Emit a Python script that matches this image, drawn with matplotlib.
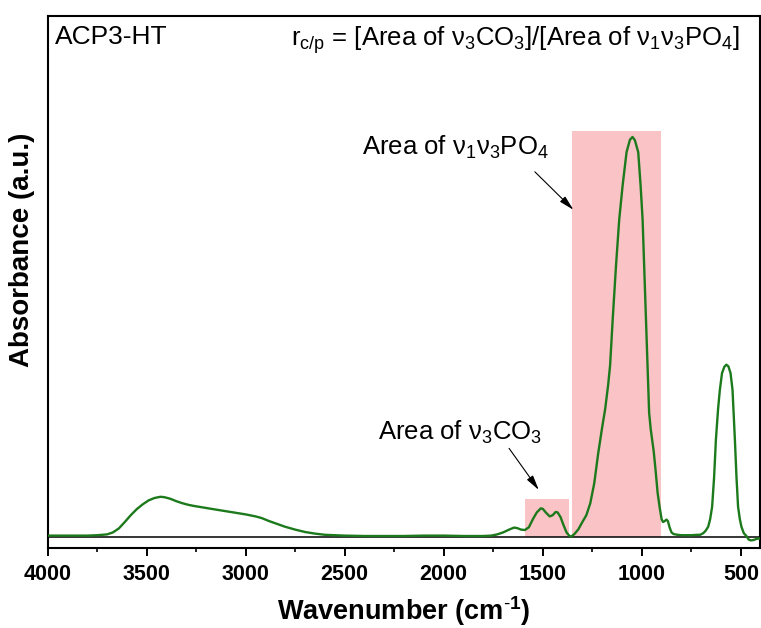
import matplotlib
matplotlib.use("Agg")
import matplotlib.pyplot as plt
from matplotlib.patches import Rectangle
from matplotlib.ticker import MultipleLocator

plt.rcParams['font.family'] = ['Liberation Sans', 'DejaVu Sans']
plt.rcParams['mathtext.fontset'] = 'custom'
plt.rcParams['mathtext.rm'] = 'Liberation Sans'
plt.rcParams['mathtext.bf'] = 'Liberation Sans:bold'
plt.rcParams['mathtext.default'] = 'regular'

# FTIR spectrum of ACP3-HT (wavenumber in cm-1, absorbance in a.u.)
wavenumber = [
    4000, 3900, 3800, 3750, 3700, 3670, 3640, 3610, 3580, 3550, 3520, 3490,
    3460, 3430, 3410, 3380, 3350, 3320, 3290, 3260, 3200, 3150, 3100, 3050,
    3000, 2950, 2920, 2880, 2840, 2800, 2750, 2700, 2650, 2600, 2500, 2400,
    2300, 2200, 2100, 2000, 1900, 1800, 1760, 1730, 1700, 1670, 1645, 1630,
    1610, 1590, 1570, 1550, 1530, 1510, 1500, 1485, 1465, 1450, 1435, 1425,
    1410, 1395, 1380, 1365, 1355, 1340, 1320, 1300, 1280, 1260, 1240, 1220,
    1200, 1185, 1170, 1160, 1147, 1130, 1114, 1097, 1077, 1060, 1047, 1035,
    1018, 1006, 996, 987, 979, 970, 963, 955, 948, 940, 930, 920,
    910, 900, 893, 885, 875, 868, 860, 850, 840, 820, 800, 750,
    720, 705, 690, 678, 665, 655, 645, 635, 626, 615, 606, 595,
    583, 573, 563, 552, 542, 530, 522, 514, 505, 497, 485, 472,
    460, 450, 435, 420, 400,
]
absorbance = [
    0.004, 0.004, 0.004, 0.005, 0.007, 0.012, 0.022, 0.038, 0.055, 0.070, 0.082, 0.092,
    0.098, 0.101, 0.100, 0.096, 0.090, 0.085, 0.081, 0.078, 0.073, 0.069, 0.065, 0.061,
    0.057, 0.052, 0.048, 0.040, 0.033, 0.026, 0.019, 0.013, 0.009, 0.006, 0.004, 0.003,
    0.003, 0.003, 0.004, 0.004, 0.003, 0.003, 0.004, 0.007, 0.012, 0.019, 0.024, 0.023,
    0.019, 0.018, 0.025, 0.045, 0.062, 0.072, 0.071, 0.062, 0.052, 0.055, 0.063, 0.062,
    0.050, 0.030, 0.012, 0.003, 0.002, 0.008, 0.020, 0.038, 0.055, 0.085, 0.135, 0.210,
    0.275, 0.320, 0.380, 0.430, 0.544, 0.680, 0.794, 0.878, 0.962, 0.993, 1.000, 0.992,
    0.962, 0.878, 0.794, 0.660, 0.544, 0.400, 0.311, 0.270, 0.245, 0.215, 0.165, 0.110,
    0.075, 0.045, 0.038, 0.040, 0.044, 0.040, 0.025, 0.012, 0.008, 0.006, 0.005, 0.005,
    0.006, 0.006, 0.010, 0.016, 0.026, 0.045, 0.076, 0.150, 0.243, 0.320, 0.368, 0.410,
    0.426, 0.431, 0.427, 0.410, 0.368, 0.243, 0.150, 0.076, 0.045, 0.026, 0.010, 0.003,
    -0.006, -0.008, -0.007, -0.004, -0.003,
]

# Integration windows (wavenumber range, upper edge)
co3_window = (1592, 1370)
co3_top = 0.095
po4_window = (1350, 903)
po4_top = 1.015

x_ticks = [4000, 3500, 3000, 2500, 2000, 1500, 1000, 500]

fig = plt.figure(figsize=(7.61, 6.28), dpi=100)
ax = fig.add_axes([0.0625, 0.128, 0.936, 0.847])

pink = '#FAC3C5'
for (hi, lo), top in ((co3_window, co3_top), (po4_window, po4_top)):
    ax.add_patch(Rectangle((lo, 0), hi - lo, top, facecolor=pink,
                           edgecolor='none', zorder=1))

ax.axhline(0, color='black', lw=1.1, zorder=2)
ax.plot(wavenumber, absorbance, color='#1C7A1C', lw=1.7, zorder=3)

ax.set_xlim(4000, 404)
ax.set_ylim(-0.026, 1.303)
ax.set_xticks(x_ticks)
ax.set_xticklabels([str(t) for t in x_ticks])
ax.xaxis.set_minor_locator(MultipleLocator(250))
ax.set_yticks([])

ax.tick_params(axis='x', which='major', direction='out', length=5.5, width=1.4,
               labelsize=15.5, pad=6)
ax.tick_params(axis='x', which='minor', direction='out', length=3, width=1.2)
for lab in ax.get_xticklabels():
    lab.set_fontweight('bold')
for sp in ax.spines.values():
    sp.set_linewidth(1.5)

ax.set_xlabel('Wavenumber (cm$^{\\mathbf{\\text{-}1}}$)', fontsize=19.5,
              fontweight='bold', labelpad=7)
ax.set_ylabel('Absorbance (a.u.)', fontsize=20, fontweight='bold')
ax.yaxis.set_label_coords(-0.017, 0.56)

ax.text(0.011, 0.983, 'ACP3-HT', transform=ax.transAxes, fontsize=19,
        ha='left', va='top')
ax.text(0.972, 0.983,
        'r$_{c/p}$ = [Area of ν$_3$CO$_3$]/[Area of ν$_1$ν$_3$PO$_4$]',
        transform=ax.transAxes, fontsize=18.5, ha='right', va='top')

arrow = dict(arrowstyle='-|>,head_length=0.9,head_width=0.22', color='black',
             lw=0.8, shrinkA=0, shrinkB=0)
ax.annotate('', xy=(1345, 0.818), xytext=(1540, 0.913), arrowprops=arrow)
ax.text(2414, 0.955, 'Area of ν$_1$ν$_3$PO$_4$', fontsize=18.5, ha='left',
        va='baseline')
ax.annotate('', xy=(1520, 0.118), xytext=(1670, 0.222), arrowprops=arrow)
ax.text(2333, 0.243, 'Area of ν$_3$CO$_3$', fontsize=18.5, ha='left',
        va='baseline')

fig.savefig('out.png', dpi=100)
